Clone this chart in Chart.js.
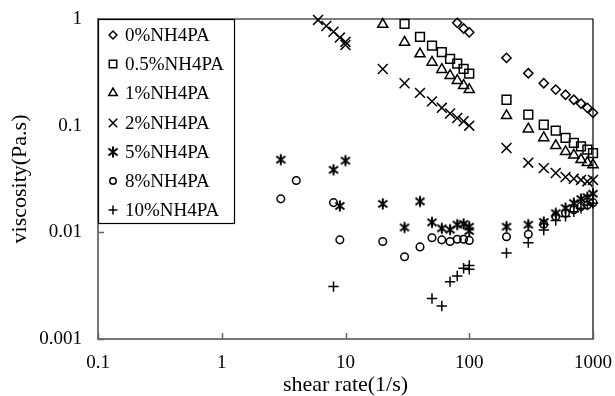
<!DOCTYPE html>
<html><head><meta charset="utf-8">
<script src="https://cdn.jsdelivr.net/npm/chart.js@4.4.1/dist/chart.umd.min.js"></script>
<style>html,body{margin:0;padding:0;background:#fff;} canvas{display:block;}</style>
</head><body>
<canvas id="c" width="615" height="396"></canvas>
<script>
// ---- data ----
const seriesNames = ['0%NH4PA','0.5%NH4PA','1%NH4PA','2%NH4PA','5%NH4PA','8%NH4PA','10%NH4PA'];

const x0 = [80,90,100,200,300,400,500,600,700,800,900,1000];
const y0 = [0.92,0.815,0.75,0.432,0.31,0.25,0.218,0.195,0.175,0.161,0.147,0.132];

const x05 = [30,40,50,60,70,80,90,100,200,300,400,500,600,700,800,900,1000];
const y05 = [0.90,0.68,0.564,0.488,0.423,0.382,0.34,0.308,0.175,0.127,0.102,0.090,0.077,0.069,0.064,0.0596,0.0554];

const x1 = [20,30,40,50,60,70,80,90,100,200,300,400,500,600,700,800,900,1000];
const y1 = [0.89,0.605,0.471,0.393,0.336,0.295,0.265,0.238,0.218,0.124,0.093,0.077,0.065,0.057,0.053,0.048,0.045,0.043];

const x2 = [6,7,8,9,10,10,20,30,40,50,60,70,80,90,100,200,300,400,500,600,700,800,900,1000];
const y2 = [0.98,0.86,0.76,0.67,0.61,0.57,0.34,0.25,0.203,0.169,0.147,0.13,0.118,0.11,0.1,0.0617,0.045,0.040,0.036,0.033,0.0318,0.031,0.030,0.031];

const x5 = [3,8,9,10,20,30,40,50,60,70,80,90,100,100,200,300,400,500,600,700,800,900,1000];
const y5 = [0.048,0.0386,0.0177,0.047,0.0185,0.0111,0.0195,0.0124,0.0109,0.0106,0.0118,0.012,0.0113,0.0103,0.0113,0.0118,0.0125,0.0151,0.0169,0.0188,0.0205,0.0214,0.023];

const x8 = [3,4,8,9,20,30,40,50,60,70,80,90,100,200,300,400,500,600,700,800,900,1000];
const y8 = [0.0206,0.0306,0.019,0.0085,0.0082,0.0059,0.0073,0.0089,0.0085,0.0082,0.0086,0.0086,0.0084,0.0091,0.0096,0.0119,0.0141,0.0151,0.0163,0.0175,0.018,0.019];

const x10 = [8,50,60,70,80,90,100,100,200,300,400,500,600,700,800,900,1000];
const y10 = [0.0031,0.0024,0.00204,0.00345,0.0039,0.0046,0.0049,0.0045,0.0064,0.008,0.0105,0.0129,0.0141,0.0156,0.0168,0.018,0.0187];

const xTicks = [0.1,1,10,100,1000];
const xTickLabels = ['0.1','1','10','100','1000'];
const yTicks = [0.001,0.01,0.1,1];
const yTickLabels = ['0.001','0.01','0.1','1'];

const xTitle = 'shear rate(1/s)';
const yTitle = 'viscosity(Pa.s)';

// ---- styles ----
const FONT = "'Liberation Serif','Times New Roman',serif";

function makeAsterisk(){
  const c = document.createElement('canvas'); c.width = 14; c.height = 14;
  const g = c.getContext('2d');
  g.strokeStyle = '#000'; g.lineWidth = 2;
  g.beginPath();
  g.moveTo(7,1.5); g.lineTo(7,12.5);
  g.moveTo(2.5,3.5); g.lineTo(11.5,10.5);
  g.moveTo(11.5,3.5); g.lineTo(2.5,10.5);
  g.stroke();
  return c;
}
const asterisk = makeAsterisk();

const xs = [x0,x05,x1,x2,x5,x8,x10];
const ys = [y0,y05,y1,y2,y5,y8,y10];
const styles = ['rectRot','rect','triangle','crossRot','img','circle','cross'];
const radii = [4.6,6.2,5.8,7,5,3.8,5.2];

const datasets = seriesNames.map((name,i)=>({
  label: name,
  data: xs[i].map((x,j)=>({x:x, y:ys[i][j]})),
  pointStyle: styles[i]==='img' ? asterisk : styles[i],
  pointRadius: radii[i],
  pointHoverRadius: radii[i],
  borderColor: '#000',
  backgroundColor: 'rgba(0,0,0,0)',
  pointBorderWidth: 1.5,
  borderWidth: 1.5,
  showLine: false,
  clip: 12
}));

const framePlugin = {
  id: 'frame',
  afterDatasetsDraw(chart){
    const ctx = chart.ctx, a = chart.chartArea;
    const xs_ = chart.scales.x, ys_ = chart.scales.y;
    ctx.save();
    // top & right frame
    ctx.strokeStyle = '#000'; ctx.lineWidth = 1.2;
    ctx.beginPath();
    ctx.moveTo(a.left, a.top); ctx.lineTo(a.right, a.top); ctx.lineTo(a.right, a.bottom);
    ctx.stroke();
    // inward tick marks
    ctx.strokeStyle = '#666'; ctx.lineWidth = 1.5;
    ctx.beginPath();
    xTicks.forEach(v=>{ const p = Math.round(xs_.getPixelForValue(v))+0.5; ctx.moveTo(p, a.bottom); ctx.lineTo(p, a.bottom-6); });
    yTicks.forEach(v=>{ const p = Math.round(ys_.getPixelForValue(v))+0.5; ctx.moveTo(a.left, p); ctx.lineTo(a.left+6, p); });
    ctx.stroke();

    // legend box
    const lx = a.left, ly = a.top, lw = 136, lh = 204;
    ctx.fillStyle = '#fff';
    ctx.fillRect(lx, ly, lw, lh);
    ctx.strokeStyle = '#000'; ctx.lineWidth = 1.2;
    ctx.strokeRect(lx+0.5, ly+0.5, lw, lh);
    ctx.font = '19px ' + FONT;
    ctx.textBaseline = 'middle'; ctx.textAlign = 'left';
    const H = Chart.helpers;
    chart.data.datasets.forEach((ds,i)=>{
      const cy = Math.round(ly + 16 + i*29.2);
      const cx = lx + 15;
      ctx.strokeStyle = '#000'; ctx.fillStyle = 'rgba(0,0,0,0)'; ctx.lineWidth = 1.5;
      H.drawPoint(ctx, {pointStyle: ds.pointStyle, radius: ds.pointRadius*0.85, rotation: 0, borderWidth: 1.5}, cx, cy);
      ctx.fillStyle = '#000';
      ctx.fillText(ds.label, lx + 27, cy + 1);
    });
    ctx.restore();
  }
};

new Chart(document.getElementById('c'), {
  type: 'scatter',
  data: { datasets },
  plugins: [framePlugin],
  options: {
    responsive: false,
    animation: false,
    events: [],
    layout: { padding: { top: 19, right: 22, left: 0, bottom: 0 } },
    plugins: { legend: { display: false }, tooltip: { enabled: false } },
    scales: {
      x: {
        type: 'logarithmic', position: 'bottom', min: 0.1, max: 1000,
        afterBuildTicks: s => { s.ticks = xTicks.map(v=>({value:v})); },
        afterFit: s => { s.height = 57; s.paddingLeft = 0; s.paddingRight = 0; },
        grid: { display: false, drawTicks: false },
        border: { display: true, color: '#777', width: 2 },
        ticks: {
          autoSkip: false, maxRotation: 0, padding: 13, color: '#000',
          font: { family: FONT, size: 19 },
          callback: (v, i) => xTickLabels[i]
        },
        title: { display: true, text: xTitle, color: '#000', font: { family: FONT, size: 22, lineHeight: 1 }, padding: { top: 0, bottom: 0 } }
      },
      y: {
        type: 'logarithmic', position: 'left', min: 0.001, max: 1,
        afterBuildTicks: s => { s.ticks = yTicks.map(v=>({value:v})); },
        afterFit: s => { s.width = 98; s.paddingTop = 0; s.paddingBottom = 0; },
        grid: { display: false, drawTicks: false },
        border: { display: true, color: '#777', width: 2 },
        ticks: {
          autoSkip: false, padding: 16, color: '#000',
          font: { family: FONT, size: 19 },
          callback: (v, i) => yTickLabels[i]
        },
        title: { display: true, text: yTitle, color: '#000', font: { family: FONT, size: 22, lineHeight: 1 }, padding: { top: 9, bottom: 0 } }
      }
    }
  }
});
</script>
</body></html>
